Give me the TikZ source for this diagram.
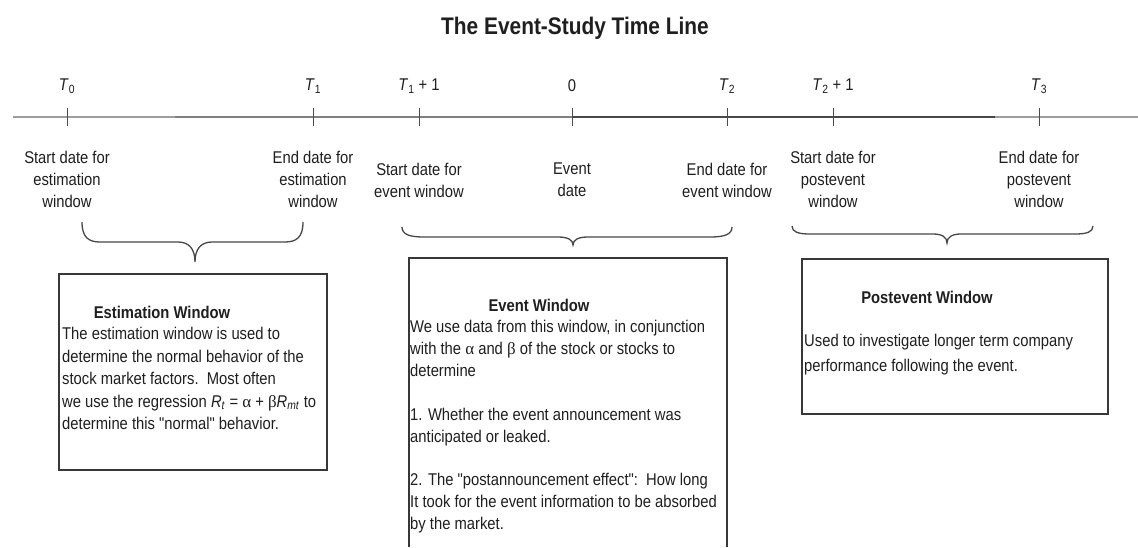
\documentclass[tikz,border=0pt]{standalone}
\usepackage{fontspec}
\setmainfont{Liberation Sans}[FakeStretch=0.87, Ligatures=TeXOff]
\newfontfamily\grk{Liberation Serif}
\newcommand{\tlbrace}[8]{%
 \draw[bracestyle] (#1,#4) .. controls (#1,#4+0.75*#5-0.75*#4) and (#1+0.35*#7,#5) .. (#1+#7,#5)
   -- (#3-#8,#5) .. controls (#3-0.35*#8,#5) and (#3,#5+0.35*#6-0.35*#5) .. (#3,#6)
   .. controls (#3,#5+0.35*#6-0.35*#5) and (#3+0.35*#8,#5) .. (#3+#8,#5)
   -- (#2-#7,#5) .. controls (#2-0.35*#7,#5) and (#2,#4+0.75*#5-0.75*#4) .. (#2,#4);}
\begin{document}
\begin{tikzpicture}[x=1pt,y=-1pt,
  txt/.style={font=\fontsize{17}{22}\selectfont, text=black!88, inner sep=0pt},
  lbl/.style={txt, align=center},
  ttl/.style={font=\fontsize{17}{22}\selectfont\bfseries, text=black!88, inner sep=0pt},
  bodytext/.style={txt, align=left, anchor=north west},
  boxline/.style={draw=black!78, line width=1.3pt},
  bracestyle/.style={draw=black!72, line width=1.3pt},
  tickmark/.style={draw=black!70, line width=1pt},
  axis light/.style={draw=black!38, line width=2pt},
  axis mid/.style={draw=black!50, line width=2pt},
  axis dark/.style={draw=black!72, line width=2pt}]
\useasboundingbox (0,0) rectangle (1138,547);
\fill[white] (0,0) rectangle (1138,547);

% title
\node[font=\fontsize{24}{28}\selectfont\bfseries, text=black!88, inner sep=0pt] (title) at (575,28) {The Event-Study Time Line};

% time line
\coordinate (L) at (13,117);
\coordinate (A) at (175,117);
\coordinate (B) at (995,117);
\coordinate (R) at (1138,117);
\coordinate (t0) at (67,117);
\coordinate (t1) at (313,117);
\coordinate (t1p) at (419,117);
\coordinate (tz) at (572,117);
\coordinate (t2) at (727,117);
\coordinate (t2p) at (833,117);
\coordinate (t3) at (1039,117);
\draw[axis light] (L) -- (A);
\draw[axis mid] (A) -- (tz);
\draw[axis dark] (tz) -- (B);
\draw[axis light] (B) -- (R);
\foreach \c in {t0,t1,t1p,tz,t2,t2p,t3}
  \draw[tickmark] ([yshift=9pt]\c) -- ([yshift=-9pt]\c);

% tick labels
\node[txt] (l0) at (67,86) {\textit{T}\textsubscript{0}};
\node[txt] (l1) at (313,86) {\textit{T}\textsubscript{1}};
\node[txt] (l1p) at (419,86) {\textit{T}\textsubscript{1} + 1};
\node[txt] (lz) at (572,86) {0};
\node[txt] (l2) at (727,86) {\textit{T}\textsubscript{2}};
\node[txt] (l2p) at (833,86) {\textit{T}\textsubscript{2} + 1};
\node[txt] (l3) at (1039,86) {\textit{T}\textsubscript{3}};

% date labels
\node[lbl] (d0) at (67,179) {Start date for\\estimation\\window};
\node[lbl] (d1) at (313,179) {End date for\\estimation\\window};
\node[lbl] (d2) at (419,180) {Start date for\\event window};
\node[lbl] (d3) at (572,180) {Event\\date};
\node[lbl] (d4) at (727,180) {End date for\\event window};
\node[lbl] (d5) at (833,179) {Start date for\\postevent\\window};
\node[lbl] (d6) at (1039,179) {End date for\\postevent\\window};

% braces
\tlbrace{82}{303}{195}{222}{242}{262}{18}{17}
\tlbrace{402}{732}{573}{227}{237}{245}{22}{15}
\tlbrace{792}{1093}{947}{226}{234}{243}{18}{14}

% boxes
\draw[boxline] (59,274) rectangle (327,470);
\draw[boxline] (409,547) -- (409,258) -- (727,258) -- (727,547);
\draw[boxline] (802,259) rectangle (1108,414);

% box titles
\node[ttl] (h1) at (162,312) {Estimation Window};
\node[ttl] (h2) at (539,305) {Event Window};
\node[ttl] (h3) at (927,297) {Postevent Window};

% box texts
\node[bodytext, font=\fontsize{17}{22.5}\selectfont] (b1) at (62,327) {The estimation window is used to\\
determine the normal behavior of the\\
stock market factors.\ \ Most often\\
we use the regression \textit{R}\textsubscript{\textit{t}} = {\grk α} + {\grk β}\textit{R}\textsubscript{\textit{mt}} to\\
determine this "normal" behavior.};

\node[bodytext, font=\fontsize{17}{21.9}\selectfont] (b2) at (410,320) {We use data from this window, in conjunction\\
with the {\grk α} and {\grk β} of the stock or stocks to\\
determine\\
\\
1. Whether the event announcement was\\
anticipated or leaked.\\
\\
2. The "postannouncement effect":\ \ How long\\
It took for the event information to be absorbed\\
by the market.};

\node[bodytext, font=\fontsize{17}{25}\selectfont] (b3) at (804,334) {Used to investigate longer term company\\
performance following the event.};
\end{tikzpicture}
\end{document}
